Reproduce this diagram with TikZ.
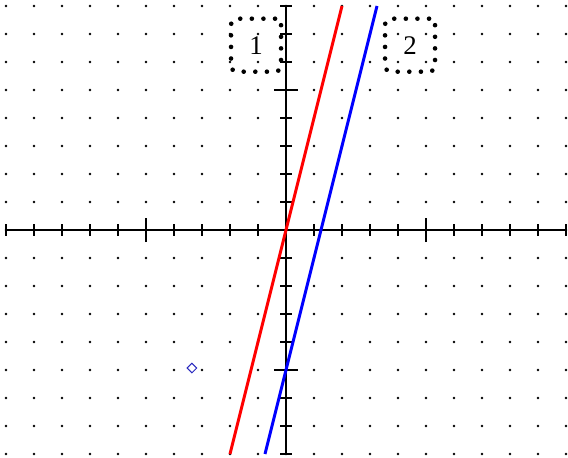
\documentclass[tikz,border=0pt]{standalone}
\usepackage{fontspec}
\setmainfont{Liberation Serif}
\usetikzlibrary{shapes.geometric}
\definecolor{mrkblue}{RGB}{40,40,190}

\begin{document}
\begin{tikzpicture}[x=28bp, y=28bp,
  ax/.style={line width=2bp},
  ln/.style={line width=3bp},
  lbox/.style={draw, line width=4.6bp, dash pattern=on 0pt off 11.6bp,
    line cap=round, rounded corners=6bp, minimum width=50bp,
    minimum height=53bp, inner sep=0pt, font=\fontsize{27}{27}\selectfont},
  mrk/.style={diamond, draw=mrkblue, line width=1bp, inner sep=0pt,
    minimum size=10bp}]
\useasboundingbox (-10.214,-8.107) rectangle (10.071,8.214);
% grid dots
\foreach \x in {-10,...,10}
  \foreach \y in {-8,...,8}
    \fill (\x,\y) circle (1.3bp);
% axes
\coordinate (xl) at (-10,0);
\coordinate (xr) at (10,0);
\coordinate (yb) at (0,-8);
\coordinate (yt) at (0,8);
\draw[ax] (xl) -- (xr);
\draw[ax] (yb) -- (yt);
\foreach \x in {-10,...,10}
  \draw[ax] (\x,-0.214) -- (\x,0.214);
\foreach \y in {-8,...,8}
  \draw[ax] (-0.214,\y) -- (0.214,\y);
\foreach \x in {-5,5}
  \draw[ax] (\x,-0.43) -- (\x,0.43);
\foreach \y in {-5,5}
  \draw[ax] (-0.43,\y) -- (0.43,\y);
% lines
\coordinate (r1) at (-2,-8);
\coordinate (r2) at (2,8);
\coordinate (b1) at (-0.75,-8);
\coordinate (b2) at (3.25,8);
\draw[ln, red] (r1) -- (r2);
\draw[ln, blue] (b1) -- (b2);
% labels
\node[lbox] (one) at (-1.07,6.6) {1};
\node[lbox] (two) at (4.43,6.6) {2};
\node[mrk] (pt) at (-3.36,-4.93) {};
\end{tikzpicture}
\end{document}
